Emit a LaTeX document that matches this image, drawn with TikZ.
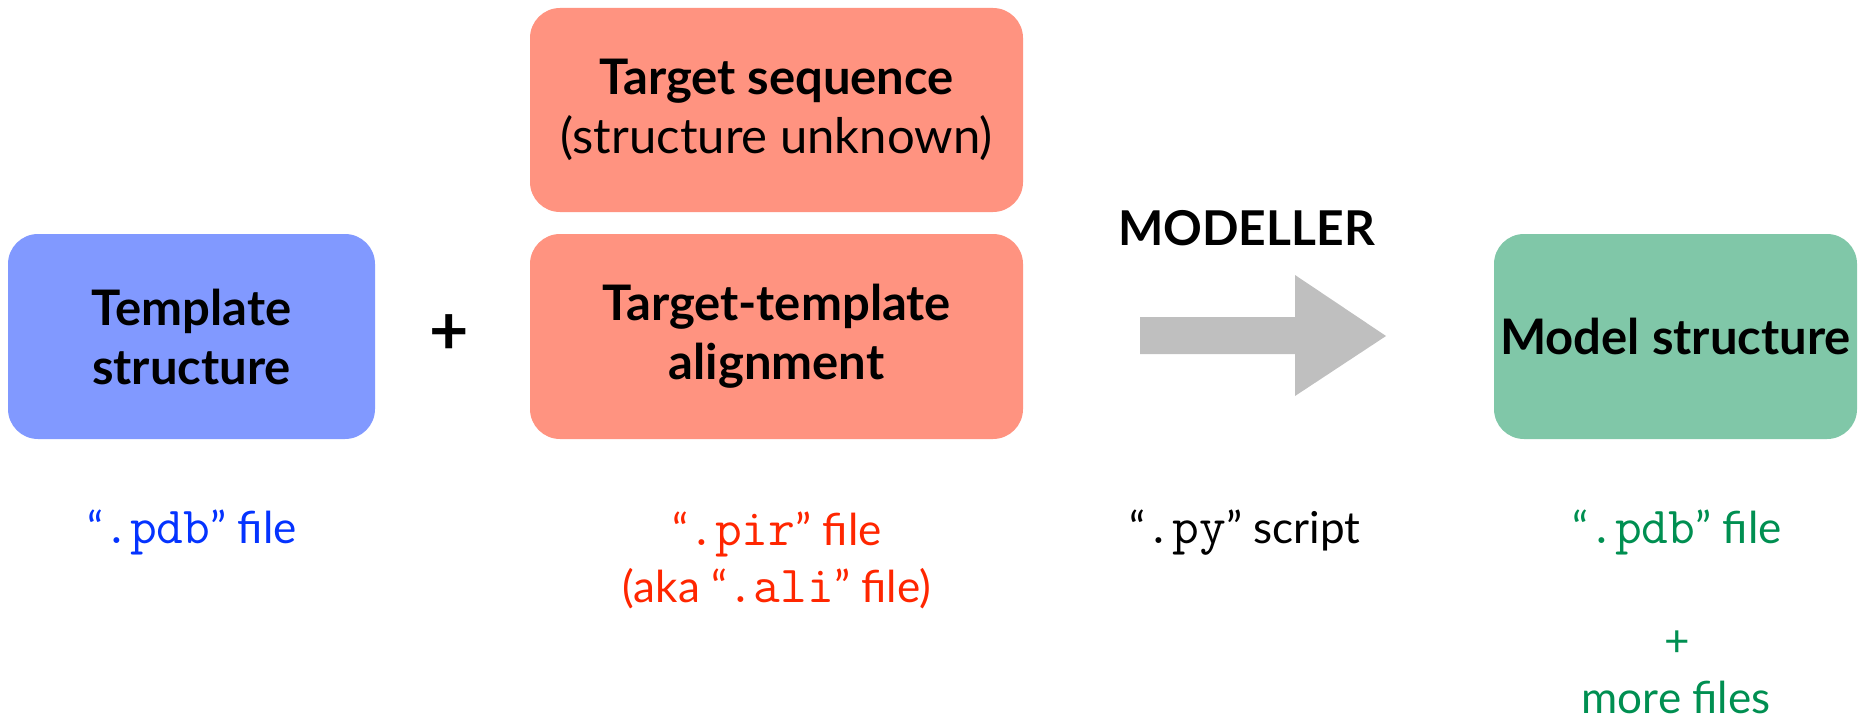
\documentclass[tikz,border=0pt]{standalone}
\usepackage{fontspec}
\setmainfont{Lato}
\definecolor{pdbblue}{HTML}{0433FF}
\definecolor{pirred}{HTML}{FF2600}
\definecolor{pdbgreen}{HTML}{008F51}
\definecolor{boxblue}{HTML}{8199FF}
\definecolor{boxred}{HTML}{FF9380}
\definecolor{boxgreen}{HTML}{80C7A8}
\definecolor{arrowgray}{HTML}{BFBFBF}
\newcommand\ttlfont{\fontsize{24.5}{29.5}\selectfont\bfseries}
\newcommand\lblfont{\fontsize{22}{28.5}\selectfont}
\newcommand\code[1]{{\ttfamily\fontsize{26}{28.5}\selectfont #1}}
\begin{document}
\begin{tikzpicture}[x=0.5pt,y=-0.5pt,
  box/.style={rounded corners=15pt, inner sep=0pt, align=center, font=\ttlfont, minimum height=102.5pt},
  lbl/.style={anchor=base, inner sep=0pt, align=center, font=\lblfont}]
\useasboundingbox (0,0) rectangle (1866,722);
% boxes
\node[box, fill=boxblue, minimum width=183.5pt] (tmpl) at (191.5,336.5) {Template\\structure};
\node[box, fill=boxred, minimum width=246.5pt, minimum height=102pt] (seq) at (776.5,110) {Target sequence\\{\mdseries (structure unknown)}};
\node[box, fill=boxred, minimum width=246.5pt] (aln) at (776.5,336.5) {Target-template\\alignment};
\node[box, fill=boxgreen, minimum width=181.5pt] (model) at (1675.5,336.5) {Model structure};
% plus sign
\node[font=\fontsize{34}{34}\selectfont\bfseries, inner sep=0pt] (plus) at (449,335) {+};
% big gray arrow
\fill[arrowgray] (1140,317) -- (1295,317) -- (1295,275) -- (1386,336) -- (1295,396) -- (1295,354) -- (1140,354) -- cycle;
\node[font=\fontsize{24}{24}\selectfont\bfseries, anchor=base, inner sep=0pt] (modeller) at (1246.5,245) {MODELLER};
% labels
\node[lbl, text=pdbblue] (pdb1) at (192,543) {“\code{.pdb}” file};
\node[lbl, text=pirred] (pir) at (777,545) {“\code{.pir}” file};
\node[lbl, text=pirred] (ali) at (777,602) {(aka “\code{.ali}” file)};
\node[lbl] (py) at (1245,543) {“\code{.py}” script};
\node[lbl, text=pdbgreen] (pdb2) at (1677,543) {“\code{.pdb}” file};
\node[lbl, text=pdbgreen] (plus2) at (1677,656) {+};
\node[lbl, text=pdbgreen] (more) at (1676,713) {more files};
\end{tikzpicture}
\end{document}
